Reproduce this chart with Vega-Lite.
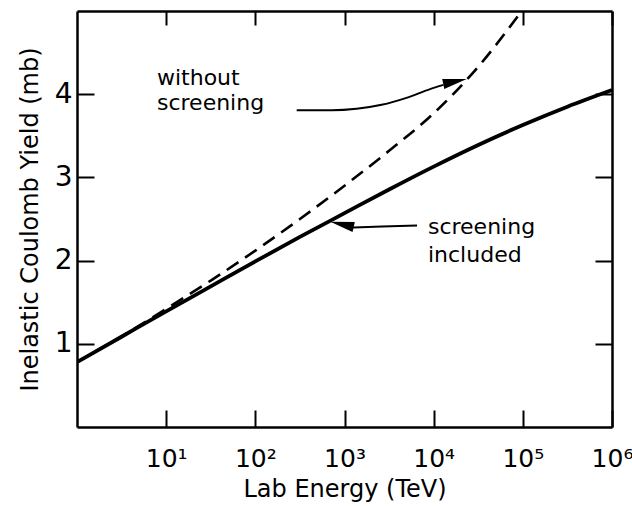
{
  "$schema": "https://vega.github.io/schema/vega-lite/v6.json",
  "width": 535,
  "height": 416,
  "autosize": "none",
  "padding": {"left": 77, "top": 11, "right": 20, "bottom": 79},
  "background": "white",
  "config": {
    "view": {"stroke": null},
    "font": "DejaVu Sans",
    "axis": {
      "grid": false,
      "domainColor": "black",
      "domainWidth": 2.5,
      "tickColor": "black",
      "tickWidth": 2,
      "labelColor": "black",
      "titleColor": "black",
      "titleFontWeight": "normal",
      "labelFont": "DejaVu Sans",
      "titleFont": "DejaVu Sans"
    }
  },
  "datasets": {
    "screened": [
      {"E": 1, "Y": 0.78},
      {"E": 3.162, "Y": 1.085},
      {"E": 10, "Y": 1.39},
      {"E": 31.62, "Y": 1.69},
      {"E": 100, "Y": 1.99},
      {"E": 316.2, "Y": 2.285},
      {"E": 1000, "Y": 2.57},
      {"E": 3162, "Y": 2.855},
      {"E": 10000, "Y": 3.13},
      {"E": 31623, "Y": 3.39},
      {"E": 100000, "Y": 3.63},
      {"E": 316228, "Y": 3.85},
      {"E": 1000000, "Y": 4.05}
    ],
    "unscreened": [
      {"E": 1, "Y": 0.78},
      {"E": 3.162, "Y": 1.09},
      {"E": 10, "Y": 1.42},
      {"E": 31.62, "Y": 1.76},
      {"E": 100, "Y": 2.12},
      {"E": 316.2, "Y": 2.5},
      {"E": 1000, "Y": 2.9},
      {"E": 3162, "Y": 3.32},
      {"E": 10000, "Y": 3.77},
      {"E": 31623, "Y": 4.33},
      {"E": 95500, "Y": 4.99}
    ],
    "notes": [
      {"E": 7.89, "Y": 4.105, "text": "without"},
      {"E": 7.89, "Y": 3.81, "text": "screening"},
      {"E": 8630, "Y": 2.32, "text": "screening"},
      {"E": 8630, "Y": 1.983, "text": "included"}
    ],
    "arrowLines": [
      {"arrow": "a", "E": 291, "Y": 3.806},
      {"arrow": "a", "E": 717, "Y": 3.806},
      {"arrow": "a", "E": 1366, "Y": 3.824},
      {"arrow": "a", "E": 2602, "Y": 3.872},
      {"arrow": "a", "E": 4955, "Y": 3.956},
      {"arrow": "a", "E": 8974, "Y": 4.058},
      {"arrow": "a", "E": 12880, "Y": 4.112},
      {"arrow": "b", "E": 1213, "Y": 2.398},
      {"arrow": "b", "E": 2632, "Y": 2.41},
      {"arrow": "b", "E": 6502, "Y": 2.422}
    ],
    "headA": [{"E": 17340, "Y": 4.153}],
    "headB": [{"E": 937, "Y": 2.436}]
  },
  "layer": [
    {
      "data": {"name": "screened"},
      "mark": {"type": "line", "color": "black", "strokeWidth": 3.8, "interpolate": "monotone", "clip": true},
      "encoding": {
        "x": {
          "field": "E", "type": "quantitative",
          "scale": {"type": "log", "domain": [1, 1000000]},
          "axis": {
            "orient": "bottom",
            "values": [10, 100, 1000, 10000, 100000, 1000000],
            "tickSize": -17,
            "labelPadding": 36,
            "labelFontSize": 25,
            "labelFlush": false,
            "labelOverlap": false,
            "labelExpr": "datum.value == 10 ? '10¹' : datum.value == 100 ? '10²' : datum.value == 1000 ? '10³' : datum.value == 10000 ? '10⁴' : datum.value == 100000 ? '10⁵' : '10⁶'",
            "title": "Lab Energy (TeV)",
            "titleFontSize": 24,
            "titlePadding": 6
          }
        },
        "y": {
          "field": "Y", "type": "quantitative",
          "scale": {"domain": [0, 5]},
          "axis": {
            "orient": "left",
            "values": [1, 2, 3, 4],
            "tickSize": -17,
            "labelPadding": 22,
            "labelFontSize": 28,
            "title": "Inelastic Coulomb Yield (mb)",
            "titleFontSize": 24,
            "titlePadding": 12
          }
        }
      }
    },
    {
      "data": {"name": "unscreened"},
      "mark": {"type": "line", "color": "black", "strokeWidth": 2.6, "strokeDash": [14, 8], "interpolate": "monotone", "clip": true},
      "encoding": {
        "x": {
          "field": "E", "type": "quantitative",
          "axis": {"orient": "top", "values": [10, 100, 1000, 10000, 100000, 1000000], "tickSize": -14, "labels": false, "title": null}
        },
        "y": {
          "field": "Y", "type": "quantitative",
          "axis": {"orient": "right", "values": [1, 2, 3, 4], "tickSize": -17, "labels": false, "title": null}
        }
      }
    },
    {
      "data": {"name": "arrowLines"},
      "mark": {"type": "line", "color": "black", "strokeWidth": 2, "interpolate": "monotone"},
      "encoding": {
        "x": {"field": "E", "type": "quantitative", "axis": null},
        "y": {"field": "Y", "type": "quantitative", "axis": null},
        "detail": {"field": "arrow"}
      }
    },
    {
      "data": {"name": "headA"},
      "mark": {"type": "point", "shape": "M1,0L-1,-0.42L-1,0.42Z", "filled": true, "color": "black", "opacity": 1, "size": 576, "angle": 348},
      "encoding": {
        "x": {"field": "E", "type": "quantitative", "axis": null},
        "y": {"field": "Y", "type": "quantitative", "axis": null}
      }
    },
    {
      "data": {"name": "headB"},
      "mark": {"type": "point", "shape": "M1,0L-1,-0.42L-1,0.42Z", "filled": true, "color": "black", "opacity": 1, "size": 576, "angle": 193},
      "encoding": {
        "x": {"field": "E", "type": "quantitative", "axis": null},
        "y": {"field": "Y", "type": "quantitative", "axis": null}
      }
    },
    {
      "data": {"name": "notes"},
      "mark": {"type": "text", "align": "left", "baseline": "alphabetic", "fontSize": 22, "font": "DejaVu Sans", "color": "black"},
      "encoding": {
        "x": {"field": "E", "type": "quantitative", "axis": null},
        "y": {"field": "Y", "type": "quantitative", "axis": null},
        "text": {"field": "text"}
      }
    }
  ],
  "resolve": {"axis": {"x": "independent", "y": "independent"}}
}
